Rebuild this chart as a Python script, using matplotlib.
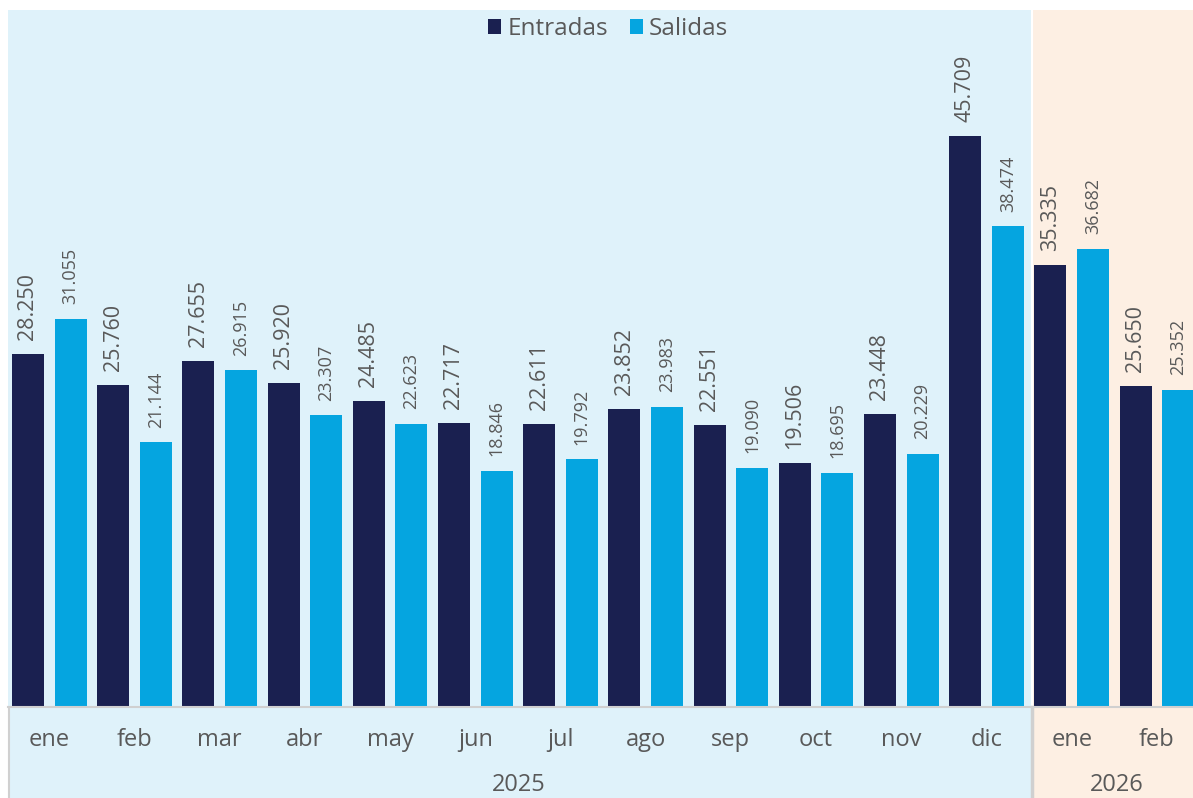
import matplotlib
matplotlib.use("Agg")
import matplotlib.pyplot as plt
from matplotlib.patches import Rectangle
from matplotlib.lines import Line2D

months = ["ene", "feb", "mar", "abr", "may", "jun", "jul", "ago", "sep", "oct", "nov", "dic", "ene", "feb"]
years = ["2025", "2026"]
year_counts = [12, 2]
entradas = [28250, 25760, 27655, 25920, 24485, 22717, 22611, 23852, 22551, 19506, 23448, 45709, 35335, 25650]
salidas = [31055, 21144, 26915, 23307, 22623, 18846, 19792, 23983, 19090, 18695, 20229, 38474, 36682, 25352]

C_ENT = "#1A2050"
C_SAL = "#05A5E0"
C_BLUE_BG = "#DFF2FA"
C_PEACH_BG = "#FDEFE3"
C_TEXT = "#595959"
C_LINE = "#D0D0D0"

plt.rcParams['font.family'] = ['Open Sans', 'DejaVu Sans']

W, H = 1193, 798
fig = plt.figure(figsize=(W / 100, H / 100), dpi=100)
fig.patch.set_facecolor("white")

px_left = 6.7
pitch = 85.2
y_base = 706
y_top = 10
xmin = -0.5
xmax = xmin + (W - px_left) / pitch
ax = fig.add_axes([px_left / W, 1 - y_base / H, (W - px_left) / W, (y_base - y_top) / H])
ax.set_xlim(xmin, xmax)
ymax = (y_base - y_top) / 12.47 * 1000
ax.set_ylim(0, ymax)
ax.patch.set_alpha(0)
for s in ax.spines.values():
    s.set_visible(False)
ax.set_xticks([])
ax.set_yticks([])

def fx(xd):
    return px_left + (xd - xmin) * pitch

split = fx(year_counts[0] - 0.5) + 3
fig.patches.append(Rectangle((8 / W, 0), (split - 8) / W, (H - y_top) / H,
                             transform=fig.transFigure, facecolor=C_BLUE_BG, edgecolor="none", zorder=-10))
fig.patches.append(Rectangle((split / W, 0), (W - split) / W, (H - y_top) / H,
                             transform=fig.transFigure, facecolor=C_PEACH_BG, edgecolor="none", zorder=-10))
fig.lines.append(Line2D([split / W, split / W], [1 - y_base / H, 1 - y_top / H],
                        transform=fig.transFigure, color="white", lw=1.5, zorder=-5))
fig.lines.append(Line2D([8 / W, 1], [1 - 707 / H, 1 - 707 / H], transform=fig.transFigure, color=C_LINE, lw=1.5))
fig.lines.append(Line2D([8.5 / W, 8.5 / W], [0, 1 - 707 / H], transform=fig.transFigure, color=C_LINE, lw=1.5))
fig.lines.append(Line2D([split / W, split / W], [0, 1 - 707 / H], transform=fig.transFigure, color=C_LINE, lw=2.5))

x = list(range(len(months)))
bw = 0.375
xe = [i - 0.25 for i in x]
xs = [i + 0.25 for i in x]
ax.bar(xe, entradas, width=bw, color=C_ENT, zorder=3, label="Entradas")
ax.bar(xs, salidas, width=bw, color=C_SAL, zorder=3, label="Salidas")

def fmt(v):
    return f"{v:,}".replace(",", ".")

for xi, v in zip(xe, entradas):
    ax.annotate(fmt(v), (xi, v), xytext=(0, 10), textcoords="offset points",
                rotation=90, ha="center", va="bottom", fontsize=15.5, color=C_TEXT)
for xi, v in zip(xs, salidas):
    ax.annotate(fmt(v), (xi, v), xytext=(0, 10.5), textcoords="offset points",
                rotation=90, ha="center", va="bottom", fontsize=13, color=C_TEXT)

for i, m in enumerate(months):
    fig.text(fx(i) / W, 1 - 740 / H, m, ha="center", va="center", fontsize=17, color=C_TEXT)
start = 0
for yname, cnt in zip(years, year_counts):
    left = fx(start - 0.5) if start > 0 else 8
    right = fx(start + cnt - 0.5)
    if yname == years[-1]:
        left = split
        right = W + 8
    fig.text((left + right) / 2 / W, 1 - 785 / H, yname, ha="center", va="center", fontsize=17, color=C_TEXT)
    start += cnt

leg = fig.legend(loc="center", bbox_to_anchor=(608 / W, 1 - 29 / H), ncol=2, frameon=False,
                 fontsize=17.5, handlelength=0.55, handleheight=0.55, handletextpad=0.25, columnspacing=0.9,
                 labelcolor=C_TEXT)

fig.savefig("out.png", dpi=100)
